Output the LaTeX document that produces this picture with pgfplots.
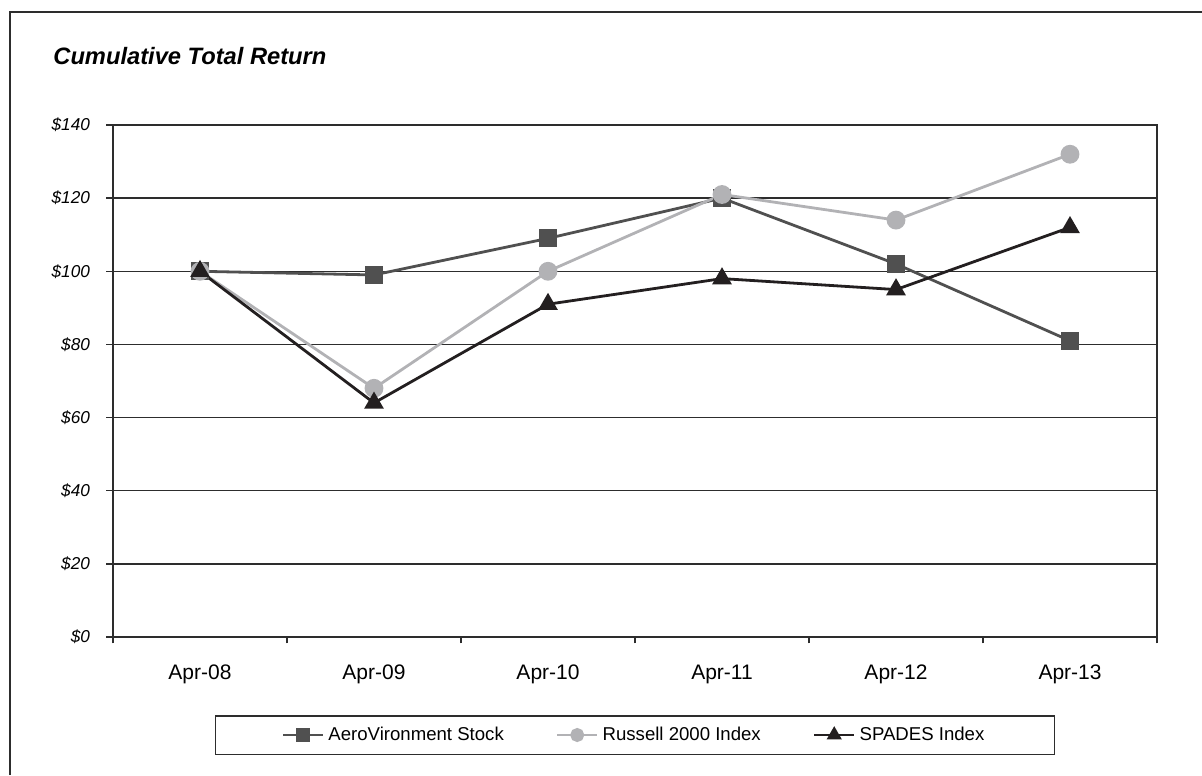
\documentclass[border=0pt]{standalone}
\usepackage{fontspec}
\setmainfont{Liberation Sans}
\usepackage{pgfplots}
\pgfplotsset{compat=1.18}

\definecolor{aero}{RGB}{80,80,80}
\definecolor{russell}{RGB}{178,178,181}
\definecolor{spades}{RGB}{35,31,32}
\definecolor{axisgray}{RGB}{45,45,45}

\begin{document}
\begin{tikzpicture}
\useasboundingbox (0,0) rectangle (601pt,-387.5pt);
% outer frame (only left and top edges are visible)
\draw[axisgray, line width=0.7pt] (5pt,-387.5pt) -- (5pt,-6pt) -- (601pt,-6pt);
\node[anchor=base west, inner sep=0pt, font=\fontsize{11.85}{14}\selectfont\bfseries\itshape]
  at (26.5pt,-32.5pt) {Cumulative Total Return};

\begin{axis}[
  at={(56.5pt,-318.5pt)}, anchor=south west,
  width=522pt, height=256pt, scale only axis,
  clip=false,
  /pgf/number format/assume math mode=true,
  axis line style={axisgray, line width=0.75pt},
  xmin=-0.5, xmax=5.5,
  ymin=0, ymax=140,
  xtick={0,1,2,3,4,5},
  xticklabels={Apr-08,Apr-09,Apr-10,Apr-11,Apr-12,Apr-13},
  minor xtick={-0.5,0.5,1.5,2.5,3.5,4.5,5.5},
  ytick={0,20,40,60,80,100,120,140},
  yticklabels={\$0,\$20,\$40,\$60,\$80,\$100,\$120,\$140},
  tick align=outside,
  xtick pos=bottom, ytick pos=left,
  major x tick style={draw=none},
  minor x tick style={axisgray, line width=0.75pt},
  minor tick length=3.2pt,
  y tick style={axisgray, line width=0.75pt},
  major tick length=3.5pt,
  ymajorgrids,
  y grid style={axisgray, line width=0.75pt},
  xticklabel style={font=\fontsize{10.5}{12}\selectfont, yshift=-7pt},
  yticklabel style={font=\fontsize{8.6}{10}\selectfont\itshape, xshift=-4.5pt},
  legend columns=3,
  legend style={
    at={(0.5,-0.1914)}, anchor=center,
    draw=axisgray, line width=0.75pt,
    font=\fontsize{9.3}{11}\selectfont,
    inner xsep=33pt, inner ysep=3.5pt,
    /tikz/every even column/.append style={column sep=24pt},
  },
  legend cell align=left,
  legend image code/.code={
    \draw[mark repeat=2, mark phase=2, mark options={scale=0.7}]
      plot coordinates {(0pt,0pt) (10pt,0pt) (20pt,0pt)};
  },
]
\addplot[aero, line width=1.4pt, mark=square*, mark size=3.75pt,
  mark options={solid, fill=aero, draw=aero}]
  coordinates {(0,100) (1,99) (2,109) (3,120) (4,102) (5,81)};
\addlegendentry{AeroVironment Stock}
\addplot[russell, line width=1.4pt, mark=*, mark size=4pt,
  mark options={solid, fill=russell, draw=russell}]
  coordinates {(0,100) (1,68) (2,100) (3,121) (4,114) (5,132)};
\addlegendentry{Russell 2000 Index}
\addplot[spades, line width=1.4pt, mark=triangle*, mark size=4.3pt,
  mark options={solid, fill=spades, draw=spades}]
  coordinates {(0,100) (1,64) (2,91) (3,98) (4,95) (5,112)};
\addlegendentry{SPADES Index}
\end{axis}
\end{tikzpicture}
\end{document}
